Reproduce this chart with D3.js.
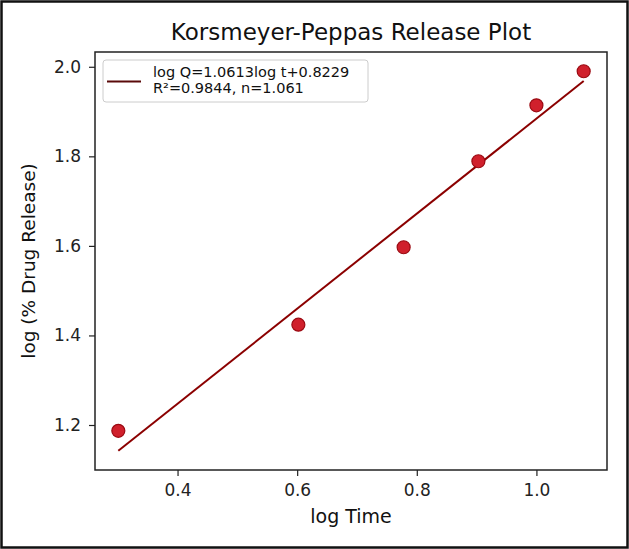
<!DOCTYPE html>
<html>
<head>
<meta charset="utf-8">
<script src="https://cdn.jsdelivr.net/npm/d3@7"></script>
<style>
  body { margin: 0; background: #fff; }
  svg { display: block; font-family: "DejaVu Sans", sans-serif; }
</style>
</head>
<body>
<svg id="chart" width="629" height="549"></svg>
<script>
// data
var logTime = [0.301, 0.602, 0.778, 0.903, 1.0, 1.079]
var logRelease = [1.187, 1.424, 1.597, 1.789, 1.914, 1.990]
var slope = 1.0613
var intercept = 0.8229
var xTicks = [0.4, 0.6, 0.8, 1.0]
var yTicks = [1.2, 1.4, 1.6, 1.8, 2.0]
var legendLines = ["log Q=1.0613log t+0.8229", "R\u00b2=0.9844, n=1.061"]

var margin = { top: 52, right: 22, bottom: 79, left: 95 }
var width = 629, height = 549
var plotW = width - margin.left - margin.right
var plotH = height - margin.top - margin.bottom

var svg = d3.select("#chart")

// outer frame of the picture
svg.append("rect")
  .attr("x", 1.5).attr("y", 1.5)
  .attr("width", width - 3).attr("height", height - 3)
  .attr("fill", "none").attr("stroke", "#111").attr("stroke-width", 2.5)

var xScale = d3.scaleLinear().domain([0.262, 1.118]).range([0, plotW])
var yScale = d3.scaleLinear().domain([1.0995, 2.033]).range([plotH, 0])

var g = svg.append("g")
  .attr("transform", "translate(" + margin.left + "," + margin.top + ")")

svg.append("text")
  .attr("x", margin.left + plotW / 2)
  .attr("y", 40)
  .attr("text-anchor", "middle")
  .attr("font-size", 23)
  .attr("fill", "#111")
  .text("Korsmeyer-Peppas Release Plot")

var xAxis = g.append("g")
  .attr("transform", "translate(0," + plotH + ")")
  .call(d3.axisBottom(xScale).tickValues(xTicks).tickFormat(d3.format(".1f")).tickSize(6).tickPadding(8))
var yAxis = g.append("g")
  .call(d3.axisLeft(yScale).tickValues(yTicks).tickFormat(d3.format(".1f")).tickSize(6).tickPadding(8))

;[xAxis, yAxis].forEach(function(ax){
  ax.select(".domain").remove()
  ax.selectAll("line").attr("stroke", "#222").attr("stroke-width", 1.2)
  ax.selectAll("text").attr("font-size", 17).attr("fill", "#222").attr("font-family", "DejaVu Sans, sans-serif")
})

// frame of the axes
g.append("rect")
  .attr("width", plotW).attr("height", plotH)
  .attr("fill", "none").attr("stroke", "#222").attr("stroke-width", 1.5)

svg.append("text")
  .attr("x", margin.left + plotW / 2)
  .attr("y", 523)
  .attr("text-anchor", "middle")
  .attr("font-size", 19)
  .attr("fill", "#111")
  .text("log Time")

svg.append("text")
  .attr("transform", "translate(35," + (margin.top + plotH / 2) + ") rotate(-90)")
  .attr("text-anchor", "middle")
  .attr("font-size", 18.5)
  .attr("fill", "#111")
  .text("log (% Drug Release)")

// fitted line over the data range
var xMin = d3.min(logTime), xMax = d3.max(logTime)
g.append("line")
  .attr("x1", xScale(xMin)).attr("y1", yScale(slope * xMin + intercept))
  .attr("x2", xScale(xMax)).attr("y2", yScale(slope * xMax + intercept))
  .attr("stroke", "#8b0000").attr("stroke-width", 2)

g.selectAll(".pt")
    .data(logTime)
    .enter()
  .append("circle")
    .attr("class", "pt")
    .attr("cx", function(d){ return xScale(d) })
    .attr("cy", function(d, i){ return yScale(logRelease[i]) })
    .attr("r", 6.5)
    .attr("fill", "#d0202c")
    .attr("stroke", "#9b0a12")
    .attr("stroke-width", 1.2)

// legend
var lg = g.append("g").attr("transform", "translate(8,8)")
lg.append("rect")
  .attr("width", 265).attr("height", 42).attr("rx", 3)
  .attr("fill", "#fff").attr("fill-opacity", 0.85)
  .attr("stroke", "#ccc").attr("stroke-width", 1)
lg.append("line")
  .attr("x1", 4).attr("x2", 38).attr("y1", 21.5).attr("y2", 21.5)
  .attr("stroke", "#5a0a0a").attr("stroke-width", 2)
lg.selectAll(".lt")
    .data(legendLines)
    .enter()
  .append("text")
    .attr("class", "lt")
    .attr("x", 50)
    .attr("y", function(d, i){ return 17 + i * 16 })
    .attr("font-size", 14.5)
    .attr("fill", "#111")
    .text(function(d){ return d })
</script>
</body>
</html>
